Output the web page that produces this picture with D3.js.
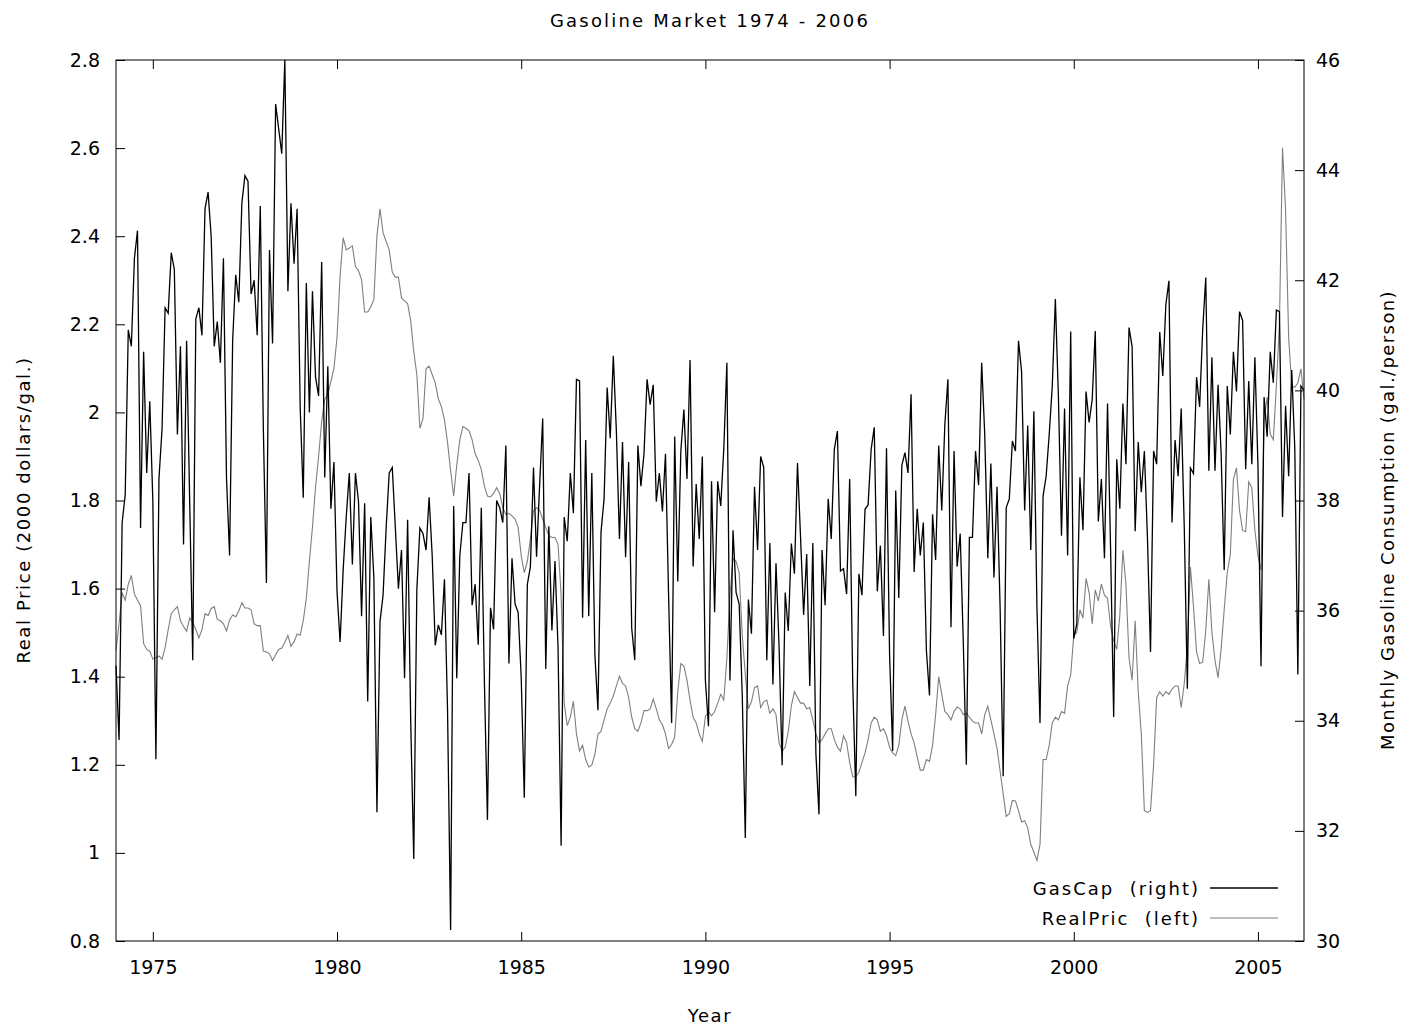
<!DOCTYPE html>
<html>
<head>
<meta charset="utf-8">
<script src="https://cdn.jsdelivr.net/npm/d3@7"></script>
<style>
  body { margin: 0; background: #fff; }
  text { font-family: "DejaVu Sans", Verdana, sans-serif; fill: #000; }
</style>
</head>
<body>
<svg id="chart" width="1408" height="1031"></svg>
<script>
// monthly series, first value = Jan 1974
const startYear = 1974;

const gasCap = [
  35.0, 33.65, 37.6, 38.1, 41.1, 40.8, 42.4, 42.9, 37.5, 40.7, 38.5, 39.8,
  38.0, 33.3, 38.4, 39.3, 41.5, 41.4, 42.5, 42.2, 39.2, 40.8, 37.2, 40.9,
  38.0, 35.1, 41.3, 41.5, 41.0, 43.3, 43.6, 42.8, 40.8, 41.25, 40.5, 42.4,
  38.4, 37.0, 40.9, 42.1, 41.6, 43.4, 43.9, 43.8, 41.75, 42.0, 41.0, 43.35,
  39.3, 36.5, 42.55, 40.85, 45.2, 44.75, 44.3, 46.0, 41.8, 43.4, 42.3, 43.3,
  39.7, 38.05, 41.95, 39.6, 41.8, 40.24, 39.9, 42.33, 38.42, 40.44, 37.85, 38.7,
  36.35, 35.43, 36.74, 37.7, 38.5, 36.84, 38.5, 37.98, 35.9, 37.95, 34.35, 37.7,
  36.6, 32.34, 35.8, 36.28, 37.5, 38.5, 38.6, 37.5, 36.4, 37.1, 34.77, 37.65,
  34.0, 31.49, 36.38, 37.5, 37.4, 37.1, 38.06, 37.0, 35.37, 35.74, 35.56, 36.57,
  34.2, 30.2, 37.9, 34.77, 37.0, 37.6, 37.6, 38.5, 36.1, 36.48, 35.38, 37.87,
  34.73, 32.2, 36.05, 35.66, 38.0, 37.87, 37.6, 39.0, 35.04, 36.95, 36.12, 35.97,
  34.79, 32.6, 36.48, 36.8, 38.6, 36.98, 38.28, 39.49, 34.94, 37.53, 35.64, 36.9,
  35.32, 31.73, 37.7, 37.26, 38.5, 37.77, 40.2, 40.17, 35.87, 39.1, 35.9, 38.5,
  35.2, 34.19, 37.43, 38.03, 40.05, 39.13, 40.63, 39.26, 37.3, 39.06, 36.97, 38.7,
  35.68, 35.1, 39.0, 38.26, 38.85, 40.2, 39.74, 40.1, 37.98, 38.5, 37.8, 38.85,
  36.3, 33.96, 39.16, 36.53, 38.9, 39.65, 38.39, 40.55, 36.8, 38.3, 37.3, 38.8,
  34.73, 33.9, 38.35, 35.97, 38.35, 37.9, 38.95, 40.5, 34.73, 37.46, 36.33, 36.12,
  34.48, 31.87, 36.2, 35.58, 38.25, 37.1, 38.8, 38.6, 35.1, 37.23, 34.66, 36.86,
  35.35, 33.19, 36.33, 35.63, 37.22, 36.67, 38.68, 37.33, 35.92, 37.03, 34.63, 37.23,
  33.4, 32.3, 37.1, 36.1, 38.03, 37.3, 38.93, 39.26, 36.72, 36.76, 36.3, 38.39,
  34.68, 32.63, 36.67, 36.28, 37.84, 37.92, 38.93, 39.33, 36.35, 37.18, 35.54, 38.95,
  35.2, 33.45, 38.18, 36.23, 38.64, 38.87, 38.5, 39.93, 36.7, 37.85, 37.0, 37.6,
  35.27, 34.46, 37.75, 36.92, 39.0, 37.82, 39.38, 40.2, 35.7, 38.9, 36.8, 37.4,
  35.45, 33.2, 37.33, 37.33, 38.9, 38.28, 40.5, 39.2, 36.95, 38.67, 36.6, 38.25,
  36.07, 32.99, 37.87, 38.03, 39.08, 38.9, 40.9, 40.34, 37.82, 39.36, 37.1, 39.62,
  36.07, 33.96, 38.08, 38.44, 39.2, 40.08, 41.66, 39.88, 37.36, 39.67, 37.0, 41.07,
  35.49, 35.76, 38.42, 37.46, 39.98, 39.42, 39.83, 41.08, 37.62, 38.39, 36.95, 39.76,
  37.1, 34.07, 38.75, 37.85, 39.76, 38.66, 41.14, 40.8, 37.44, 39.06, 38.15, 38.9,
  37.33, 35.25, 38.9, 38.66, 41.06, 40.26, 41.56, 41.99, 37.6, 39.1, 38.44, 39.67,
  37.5, 34.58, 38.59, 38.49, 40.24, 39.7, 41.11, 42.05, 38.54, 40.6, 38.54, 40.1,
  38.86, 36.74, 40.08, 39.2, 40.7, 39.98, 41.43, 41.27, 38.57, 40.17, 38.66, 40.6,
  38.64, 34.99, 39.88, 39.16, 40.7, 40.14, 41.46, 41.43, 37.7, 39.72, 38.44, 40.37,
  38.95, 34.84, 40.08, 40.0
];

const realPric = [
  1.46, 1.52, 1.59, 1.574, 1.61, 1.63, 1.587, 1.574, 1.561, 1.475, 1.462, 1.458,
  1.44, 1.443, 1.447, 1.44, 1.466, 1.507, 1.543, 1.552, 1.559, 1.527, 1.514, 1.503,
  1.533, 1.524, 1.507, 1.488, 1.507, 1.543, 1.539, 1.555, 1.559, 1.53, 1.527, 1.52,
  1.504, 1.529, 1.54, 1.536, 1.549, 1.568, 1.556, 1.556, 1.552, 1.52, 1.516, 1.516,
  1.458, 1.456, 1.452, 1.437, 1.45, 1.462, 1.465, 1.478, 1.494, 1.469, 1.479, 1.497,
  1.494, 1.527, 1.578, 1.662, 1.74, 1.83, 1.90, 1.98, 2.03, 2.04, 2.07, 2.10,
  2.17, 2.311, 2.397, 2.369, 2.373, 2.378, 2.331, 2.322, 2.301, 2.228, 2.228, 2.24,
  2.256, 2.401, 2.462, 2.408, 2.388, 2.369, 2.318, 2.307, 2.307, 2.26, 2.253, 2.247,
  2.208, 2.138, 2.086, 1.964, 1.986, 2.099, 2.105, 2.086, 2.067, 2.031, 2.013, 1.983,
  1.932, 1.868, 1.81, 1.88, 1.938, 1.968, 1.964, 1.958, 1.938, 1.906, 1.891, 1.87,
  1.833, 1.81, 1.808, 1.816, 1.829, 1.816, 1.784, 1.768, 1.771, 1.765, 1.758, 1.739,
  1.675, 1.636, 1.662, 1.713, 1.777, 1.784, 1.777, 1.758, 1.739, 1.72, 1.716, 1.716,
  1.70, 1.585, 1.34, 1.289, 1.308, 1.344, 1.27, 1.231, 1.244, 1.212, 1.195, 1.199,
  1.224, 1.27, 1.276, 1.302, 1.327, 1.34, 1.356, 1.379, 1.401, 1.385, 1.379, 1.353,
  1.308, 1.282, 1.276, 1.295, 1.323, 1.323, 1.327, 1.349, 1.327, 1.302, 1.291, 1.27,
  1.237, 1.246, 1.263, 1.366, 1.43, 1.424, 1.392, 1.347, 1.308, 1.295, 1.27, 1.253,
  1.31, 1.321, 1.311, 1.321, 1.34, 1.36, 1.347, 1.443, 1.585, 1.668, 1.662, 1.636,
  1.495, 1.405, 1.327, 1.343, 1.375, 1.379, 1.33, 1.343, 1.347, 1.317, 1.327, 1.314,
  1.25, 1.231, 1.24, 1.276, 1.334, 1.366, 1.353, 1.34, 1.34, 1.327, 1.33, 1.302,
  1.27, 1.25, 1.257, 1.27, 1.282, 1.282, 1.257, 1.24, 1.231, 1.266, 1.25, 1.205,
  1.173, 1.173, 1.183, 1.205, 1.227, 1.257, 1.295, 1.308, 1.302, 1.276, 1.282, 1.266,
  1.24, 1.227, 1.221, 1.244, 1.302, 1.333, 1.299, 1.27, 1.25, 1.218, 1.188, 1.188,
  1.212, 1.208, 1.244, 1.314, 1.40, 1.36, 1.321, 1.314, 1.302, 1.321, 1.331, 1.327,
  1.314, 1.317, 1.308, 1.299, 1.295, 1.295, 1.27, 1.314, 1.333, 1.302, 1.27, 1.237,
  1.186, 1.134, 1.083, 1.089, 1.119, 1.118, 1.096, 1.07, 1.073, 1.057, 1.019, 1.002,
  0.983, 1.019, 1.212, 1.212, 1.244, 1.295, 1.308, 1.302, 1.321, 1.317, 1.379, 1.404,
  1.494, 1.501, 1.552, 1.533, 1.623, 1.591, 1.52, 1.597, 1.572, 1.61, 1.585, 1.578,
  1.514, 1.482, 1.462, 1.539, 1.687, 1.61, 1.443, 1.392, 1.527, 1.366, 1.27, 1.096,
  1.092, 1.096, 1.199, 1.353, 1.366, 1.356, 1.366, 1.36, 1.372, 1.379, 1.379, 1.33,
  1.385, 1.469, 1.649, 1.559, 1.456, 1.43, 1.433, 1.505, 1.621, 1.501, 1.437, 1.398,
  1.462, 1.552, 1.636, 1.678, 1.848, 1.874, 1.777, 1.732, 1.729, 1.842, 1.829, 1.732,
  1.675, 1.642, 1.983, 2.035, 1.951, 1.938, 2.06, 2.202, 2.601, 2.459, 2.17, 2.06,
  2.057, 2.067, 2.099, 2.03
];

const yearTicks = [1975, 1980, 1985, 1990, 1995, 2000, 2005];
const priceTicks = [0.8, 1, 1.2, 1.4, 1.6, 1.8, 2, 2.2, 2.4, 2.6, 2.8];
const gasTicks = [30, 32, 34, 36, 38, 40, 42, 44, 46];

const plotLeft = 116, plotRight = 1304, plotTop = 60, plotBottom = 941;
const svg = d3.select("#chart");

const x = d3.scaleLinear()
  .domain([startYear, startYear + (realPric.length - 1) / 12])
  .range([plotLeft, plotRight]);
const yL = d3.scaleLinear().domain([0.8, 2.8]).range([plotBottom, plotTop]);
const yR = d3.scaleLinear().domain([30, 46]).range([plotBottom, plotTop]);

const fmt = d3.format("~g");

function styleAxis(g) {
  g.select(".domain").remove();
  g.selectAll(".tick line").attr("stroke", "#000").attr("stroke-width", 1);
  g.selectAll("text")
    .attr("fill", "#000")
    .style("font-family", "'DejaVu Sans', Verdana, sans-serif")
    .style("font-size", "19px");
}

svg.append("g")
  .attr("transform", `translate(${plotLeft},0)`)
  .call(d3.axisLeft(yL).tickValues(priceTicks).tickFormat(fmt).tickSize(-9).tickPadding(16))
  .call(styleAxis);

svg.append("g")
  .attr("transform", `translate(${plotRight},0)`)
  .call(d3.axisRight(yR).tickValues(gasTicks).tickFormat(fmt).tickSize(-9).tickPadding(12))
  .call(styleAxis);

svg.append("g")
  .attr("transform", `translate(0,${plotBottom})`)
  .call(d3.axisBottom(x).tickValues(yearTicks).tickFormat(d3.format("d")).tickSize(-9).tickPadding(20))
  .call(styleAxis);

svg.append("g")
  .attr("transform", `translate(0,${plotTop})`)
  .call(d3.axisTop(x).tickValues(yearTicks).tickFormat("").tickSize(-9))
  .call(styleAxis);

const monthX = (d, i) => x(startYear + i / 12);

svg.append("path")
  .datum(realPric)
  .attr("fill", "none")
  .attr("stroke", "#7f7f7f")
  .attr("stroke-width", 1.1)
  .attr("d", d3.line().x(monthX).y(d => yL(d)));

svg.append("path")
  .datum(gasCap)
  .attr("fill", "none")
  .attr("stroke", "#000")
  .attr("stroke-width", 1.3)
  .attr("d", d3.line().x(monthX).y(d => yR(d)));

svg.append("rect")
  .attr("x", plotLeft).attr("y", plotTop)
  .attr("width", plotRight - plotLeft).attr("height", plotBottom - plotTop)
  .attr("fill", "none").attr("stroke", "#000").attr("stroke-width", 1);

// legend
const legend = [
  { label: "GasCap  (right)", color: "#000", w: 1.3 },
  { label: "RealPric  (left)", color: "#7f7f7f", w: 1.1 }
];
legend.forEach((d, i) => {
  const ly = 888 + i * 30;
  svg.append("text")
    .attr("x", 1200).attr("y", ly + 7)
    .attr("text-anchor", "end")
    .style("white-space", "pre")
    .style("font-size", "18px")
    .style("letter-spacing", "2px")
    .text(d.label);
  svg.append("line")
    .attr("x1", 1210).attr("x2", 1278)
    .attr("y1", ly).attr("y2", ly)
    .attr("stroke", d.color).attr("stroke-width", d.w);
});

// titles
svg.append("text")
  .attr("x", 710).attr("y", 27)
  .attr("text-anchor", "middle")
  .style("font-size", "18px")
  .style("letter-spacing", "2.2px")
  .text("Gasoline Market 1974 - 2006");

svg.append("text")
  .attr("x", 710).attr("y", 1022)
  .attr("text-anchor", "middle")
  .style("font-size", "18px")
  .style("letter-spacing", "1.6px")
  .text("Year");

svg.append("text")
  .attr("transform", "translate(30,510) rotate(-90)")
  .attr("text-anchor", "middle")
  .style("font-size", "18px")
  .style("letter-spacing", "1.6px")
  .text("Real Price (2000 dollars/gal.)");

svg.append("text")
  .attr("transform", "translate(1394,520) rotate(-90)")
  .attr("text-anchor", "middle")
  .style("font-size", "18px")
  .style("letter-spacing", "1.4px")
  .text("Monthly Gasoline Consumption (gal./person)");
</script>
</body>
</html>
